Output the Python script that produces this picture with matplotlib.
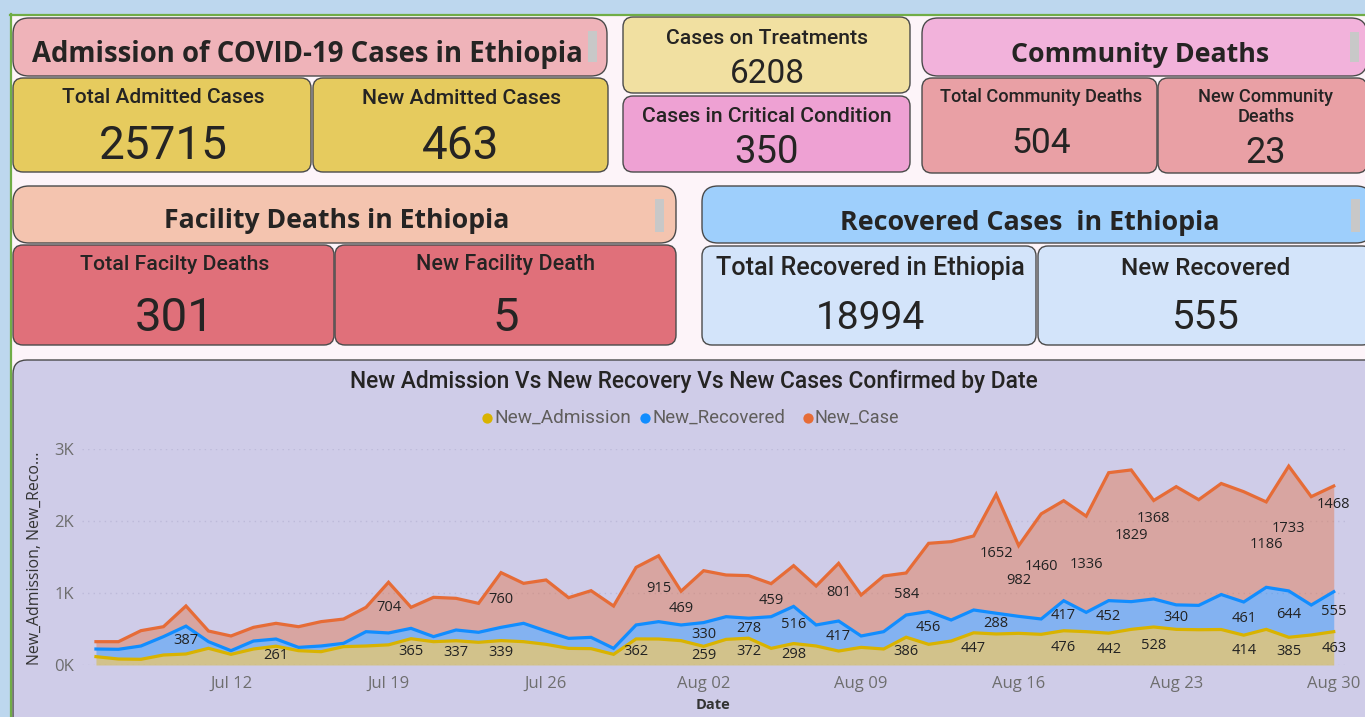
import numpy as np
import pandas as pd
import matplotlib
matplotlib.use("Agg")
import matplotlib.pyplot as plt
import matplotlib.dates as mdates
from matplotlib.patches import FancyBboxPatch, Rectangle

# ---------------- data ----------------
dates = pd.date_range("2020-07-06", "2020-08-30", freq="D")

new_admission = [116, 83, 79, 139, 153, 232, 148, 222, 261, 199,
                 185, 255, 264, 280, 365, 324, 337, 315, 339, 324,
                 287, 231, 227, 148, 362, 361, 338, 259, 356, 372,
                 231, 298, 264, 194, 245, 222, 386, 287, 333, 447,
                 431, 440, 426, 476, 463, 442, 495, 528, 495, 490,
                 493, 414, 495, 385, 417, 463]
new_recovered = [106, 135, 185, 255, 387, 92, 51, 111, 100, 46,
                 79, 46, 199, 165, 144, 70, 149, 139, 184, 255,
                 185, 139, 157, 83, 194, 241, 218, 330, 315, 278,
                 440, 516, 292, 417, 158, 241, 308, 456, 292, 317,
                 288, 236, 213, 417, 268, 452, 385, 389, 340, 338,
                 486, 461, 584, 644, 416, 555]
new_case = [102, 106, 213, 138, 280, 148, 204, 190, 218, 287,
            338, 337, 338, 704, 292, 546, 440, 402, 760, 555,
            709, 565, 648, 588, 800, 915, 469, 721, 579, 591,
            459, 566, 541, 801, 569, 773, 584, 947, 1088, 1028,
            1652, 982, 1460, 1389, 1336, 1777, 1829, 1368, 1642, 1468,
            1542, 1532, 1186, 1733, 1505, 1468]

series_names = ["New_Admission", "New_Recovered", "New_Case"]

# days (index into dates) that carry a data label in the reference
adm_label_days = [8, 14, 16, 18, 24, 27, 29, 31, 36, 39, 43, 45, 47, 51, 53, 55]
rec_label_days = [4, 27, 29, 31, 33, 37, 40, 43, 45, 48, 51, 53, 55]
case_label_days = [13, 18, 25, 26, 30, 33, 36, 40, 41, 42, 44, 46, 47, 52, 53, 55]
case_labels_near_top = [47, 55]

x_tick_dates = ["2020-07-12", "2020-07-19", "2020-07-26", "2020-08-02",
                "2020-08-09", "2020-08-16", "2020-08-23", "2020-08-30"]
x_tick_labels = ["Jul 12", "Jul 19", "Jul 26", "Aug 02", "Aug 09", "Aug 16", "Aug 23", "Aug 30"]
y_ticks = [0, 1000, 2000, 3000]
y_tick_labels = ["0K", "1K", "2K", "3K"]

chart_title = "New Admission Vs New Recovery Vs New Cases Confirmed by Date"

# KPI cards
header_titles = ["Admission of COVID-19 Cases in Ethiopia", "Community Deaths",
                 "Facility Deaths in Ethiopia", "Recovered Cases  in Ethiopia"]
card_titles = ["Total Admitted Cases", "New Admitted Cases", "Cases on Treatments",
               "Cases in Critical Condition", "Total Community Deaths", "New Community",
               "Total Facilty Deaths", "New Facility Death", "Total Recovered in Ethiopia",
               "New Recovered"]
card_values = ["25715", "463", "6208", "350", "504", "23", "301", "5", "18994", "555"]

# ---------------- style / layout ----------------
W, H = 1365, 717
C_ADM, C_REC, C_CASE = "#D9B300", "#118DFF", "#E66C37"
CHART_BG = "#CFCCE8"
DARK = "#252423"
CARD_FONT = ["Roboto", "DejaVu Sans"]
HEAD_FONT = ["Open Sans", "DejaVu Sans"]
UI_FONT = ["Open Sans", "DejaVu Sans"]

fig = plt.figure(figsize=(W / 100, H / 100), dpi=100)
fig.patch.set_facecolor("#FDF4F9")
bg = fig.add_axes([0, 0, 1, 1])
bg.set_xlim(0, W)
bg.set_ylim(H, 0)
bg.axis("off")
renderer = fig.canvas.get_renderer()

# outer frame
bg.add_patch(Rectangle((0, 0), W, 14, color="#BDD7EE", lw=0))
bg.add_patch(Rectangle((0, 0), 10, H, color="#BDD7EE", lw=0))
bg.plot([10, W], [14.5, 14.5], color="#70AD47", lw=1.6)
bg.plot([10.5, 10.5], [14, H], color="#70AD47", lw=1.6)


def box(x0, y0, x1, y1, color, r=10):
    bg.add_patch(FancyBboxPatch((x0, y0), x1 - x0, y1 - y0,
                                boxstyle=f"round,pad=0,rounding_size={r}",
                                fc=color, ec="#4a4a4a", lw=1.0))


def place(x, yc, s, size=12, target_w=None, family=CARD_FONT, weight="medium",
          color=DARK, cap=0.711):
    t = bg.text(x, yc, s, ha="center", va="baseline", fontsize=size,
                family=family, weight=weight, color=color)
    if target_w is not None:
        w = t.get_window_extent(renderer).width
        size = size * target_w / w
        t.set_fontsize(size)
    t.set_y(yc + cap * size * 100 / 72 / 2)
    return size


def scrollbar(x, y0, y1):
    bg.add_patch(Rectangle((x, y0), 9, y1 - y0, color="#C8C8C8", lw=0))


# headers
box(13, 18, 607, 76, "#EFB3B9", r=16)
place(307, 52, header_titles[0], 16, 550, HEAD_FONT, "bold")
scrollbar(588, 31, 62)
box(922, 18, 1367, 76, "#F2B2DB", r=16)
place(1140, 52.5, header_titles[1], 16, 257, HEAD_FONT, "bold")
scrollbar(1350, 32, 62)
box(13, 186, 676, 243, "#F4C4AF", r=16)
place(337, 218.5, header_titles[2], 16, 345, HEAD_FONT, "bold")
scrollbar(655, 199, 232)
box(702, 186, 1372, 243, "#9ECFFC", r=16)
place(1030, 220, header_titles[3], 16, 380, HEAD_FONT, "bold")
scrollbar(1351, 199, 232)

# cards: (x0, y0, x1, y1, colour, centre x, title y, title width, value y, value size)
cards = [
    (13, 78, 311, 172, "#E6CB5E", 163, 96, 202, 142.5, 33),
    (313, 78, 608, 172, "#E6CB5E", 461, 96, 199, 142.5, 33),
    (623, 17, 910, 93, "#F1E0A1", 767, 36, 202, 71.5, 24),
    (623, 96, 910, 172, "#EEA1D3", 767, 114, 250, 149.5, 27.5),
    (922, 78, 1157, 173, "#E9A0A5", 1041, 95.5, 202, 140.5, 25.5),
    (1158, 78, 1367, 173, "#E9A0A5", 1266, 95.5, 135, 150.5, 26),
    (13, 245, 334, 345, "#E0707A", 175, 262.5, 188, 314.5, 34),
    (335, 245, 676, 345, "#E0707A", 506, 262.5, 178, 314.5, 34),
    (702, 246, 1036, 345, "#D3E4FA", 870, 266.5, 309, 315, 28),
    (1038, 246, 1372, 345, "#D3E4FA", 1206, 266.5, 169, 315, 29),
]
for (x0, y0, x1, y1, col, cx, ty, tw, vy, vs), title, val in zip(cards, card_titles, card_values):
    box(x0, y0, x1, y1, col, r=10)
    sz = place(cx, ty, title, 13, tw)
    if title == "New Community":
        place(cx, ty + 20, "Deaths", sz)
    place(cx, vy, val, vs, weight="normal")

# chart panel
box(13, 360, 1385, 740, CHART_BG, r=14)
place(694, 380, chart_title, 13, 688, CARD_FONT)

# legend
legend_cols = [C_ADM, C_REC, C_CASE]
legend_x = [487, 645, 808]
legend_w = [136, 133, 85]
for name, col, lx, lw_ in zip(series_names, legend_cols, legend_x, legend_w):
    bg.scatter([lx], [418], s=55, color=col, zorder=5, lw=0)
    t = bg.text(lx + 7, 418, name, ha="left", va="center", fontsize=12,
                family=CARD_FONT, color="#605E5C")
    w = t.get_window_extent(renderer).width
    t.set_fontsize(12 * lw_ / w)

# axis titles
t = bg.text(35, 558, "New_Admission, New_Reco...", ha="center", va="center",
            fontsize=10, family=UI_FONT, color="#333333")
w = t.get_window_extent(renderer).width
t.set_fontsize(10 * 213 / w)
t.set_rotation(90)
bg.text(713, 705, "Date", ha="center", va="center", fontsize=10.5,
        family=UI_FONT, weight="bold", color="#333333")

# ---------------- the area chart ----------------
ax = fig.add_axes([82 / W, (H - 665) / H, (1345 - 82) / W, (665 - 449) / H])
ax.set_facecolor("none")
x = mdates.date2num(dates.to_pydatetime())
adm = np.array(new_admission, float)
rec = np.array(new_recovered, float)
case = np.array(new_case, float)
c1 = adm
c2 = adm + rec
c3 = c2 + case

ax.fill_between(x, 0, c1, color=C_ADM, alpha=0.4, lw=0, zorder=2)
ax.fill_between(x, c1, c2, color=C_REC, alpha=0.4, lw=0, zorder=2)
ax.fill_between(x, c2, c3, color=C_CASE, alpha=0.4, lw=0, zorder=2)
ax.plot(x, c3, color=C_CASE, lw=2.3, zorder=4, solid_joinstyle="miter")
ax.plot(x, c2, color=C_REC, lw=2.3, zorder=4, solid_joinstyle="miter")
ax.plot(x, c1, color=C_ADM, lw=2.3, zorder=4, solid_joinstyle="miter")

ax.set_xlim(x[0] - 0.62, x[-1] + 0.5)
ax.set_ylim(0, 3000)
ax.set_yticks(y_ticks)
ax.set_yticklabels(y_tick_labels)
ax.set_xticks(mdates.date2num(pd.to_datetime(x_tick_dates).to_pydatetime()))
ax.set_xticklabels(x_tick_labels)
ax.tick_params(axis="both", length=0, labelcolor="#6E6E6E", labelsize=12)
ax.tick_params(axis="x", pad=8)
ax.tick_params(axis="y", pad=6)
for lab in ax.get_xticklabels() + ax.get_yticklabels():
    lab.set_family(UI_FONT)
ax.yaxis.grid(True, linestyle=(0, (1, 3)), color="#BDBAD9", lw=1, zorder=1)
ax.set_axisbelow(True)
for s in ax.spines.values():
    s.set_visible(False)

lab_kw = dict(ha="center", va="center", fontsize=10.5, family=UI_FONT, color="#222222", zorder=6)
for i in adm_label_days:
    ax.text(x[i], c1[i] / 2, f"{int(adm[i])}", **lab_kw)
for i in rec_label_days:
    ax.text(x[i], (c1[i] + c2[i]) / 2, f"{int(rec[i])}", **lab_kw)
for i in case_label_days:
    yy = c3[i] - 250 if i in case_labels_near_top else (c2[i] + c3[i]) / 2
    ax.text(x[i], yy, f"{int(case[i])}", **lab_kw)

fig.savefig("out.png", dpi=100, facecolor=fig.get_facecolor())
